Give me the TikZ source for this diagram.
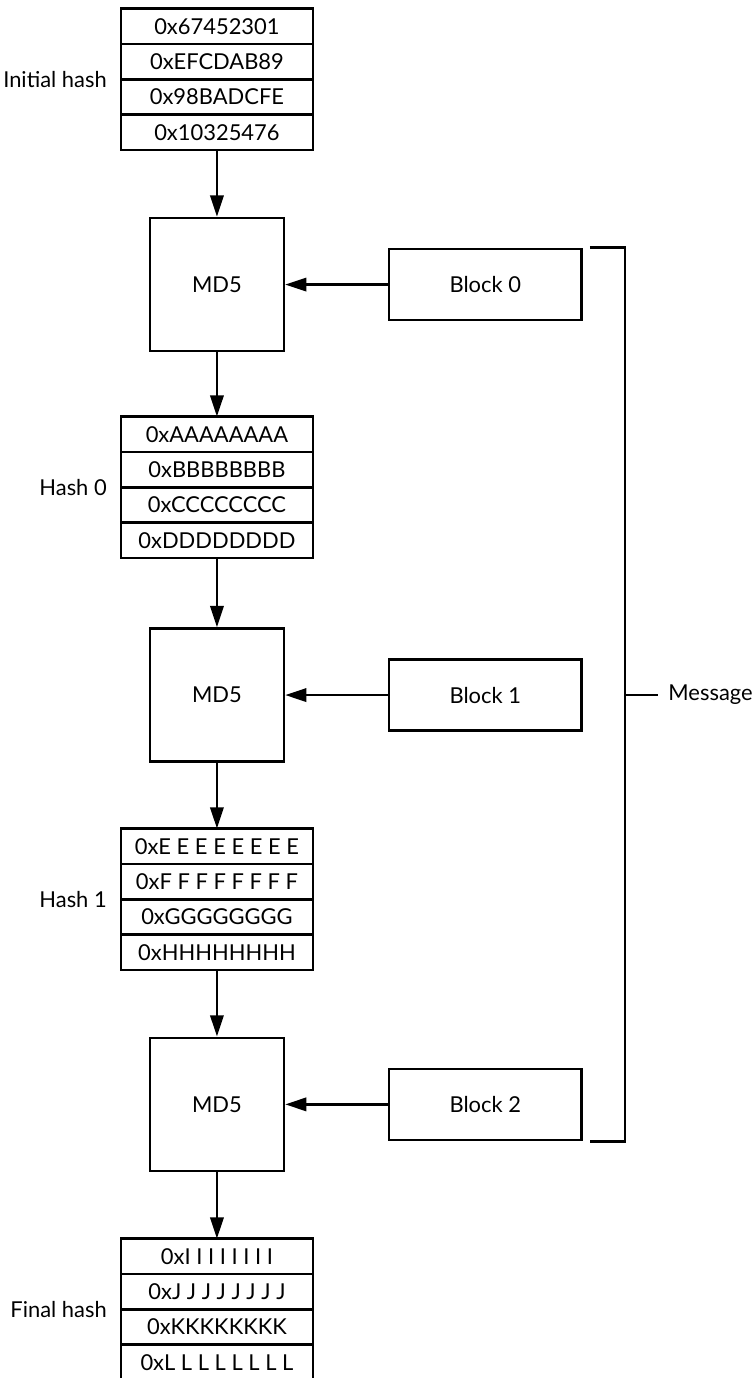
\documentclass[tikz,border=0pt]{standalone}
\usepackage{fontspec}
\setmainfont{Lato}
\usetikzlibrary{arrows.meta,positioning,calc}

\begin{document}
\begin{tikzpicture}[>={Triangle[length=16pt,width=10pt]}, line width=2pt,
    every node/.style={font=\fontsize{16.5}{19}\selectfont},
    row/.style={draw, minimum width=5.08cm, minimum height=0.935cm, inner sep=0pt, outer sep=0pt},
    md/.style={draw, minimum width=3.54cm, minimum height=3.52cm, inner sep=0pt},
    blk/.style={draw, minimum width=5.1cm, minimum height=1.88cm, inner sep=0pt},
    lbl/.style={inner sep=0pt}]
  \useasboundingbox (0,0) rectangle (19.97,-36.46);
  % initial hash
  \node[row] (ia) at (5.74,-0.70) {0x67452301};
  \node[row, below=0pt of ia] (ib) {0xEFCDAB89};
  \node[row, below=0pt of ib] (ic) {0x98BADCFE};
  \node[row, below=0pt of ic] (id) {0x10325476};
  \node[lbl, left=0.34cm of ib.south west] (li) {Initial hash};
  % compression
  \node[md] (md0) at (5.74,-7.53) {MD5};
  \node[blk] (b0) at (12.84,-7.53) {Block 0};
  % hash 0
  \node[row] (ha) at (5.74,-11.49) {0xAAAAAAAA};
  \node[row, below=0pt of ha] (hb) {0xBBBBBBBB};
  \node[row, below=0pt of hb] (hc) {0xCCCCCCCC};
  \node[row, below=0pt of hc] (hd) {0xDDDDDDDD};
  \node[lbl, left=0.34cm of hb.south west] (lh0) {Hash 0};
  \node[md] (md1) at (5.74,-18.39) {MD5};
  \node[blk] (b1) at (12.84,-18.39) {Block 1};
  % hash 1
  \node[row] (he) at (5.74,-22.39) {0xE E E E E E E E};
  \node[row, below=0pt of he] (hf) {0xF F F F F F F F};
  \node[row, below=0pt of hf] (hg) {0xGGGGGGGG};
  \node[row, below=0pt of hg] (hh) {0xHHHHHHHH};
  \node[lbl, left=0.34cm of hf.south west] (lh1) {Hash 1};
  \node[md] (md2) at (5.74,-29.22) {MD5};
  \node[blk] (b2) at (12.84,-29.22) {Block 2};
  % final hash
  \node[row] (fi) at (5.74,-33.24) {0xI I I I I I I I};
  \node[row, below=0pt of fi] (fj) {0xJ J J J J J J J};
  \node[row, below=0pt of fj] (fk) {0xKKKKKKKK};
  \node[row, below=0pt of fk] (fl) {0xL L L L L L L L};
  \node[lbl, left=0.34cm of fj.south west] (lf) {Final hash};
  % arrows
  \draw[->] (id) -- (md0);
  \draw[->] (md0) -- (ha);
  \draw[->] (hd) -- (md1);
  \draw[->] (md1) -- (he);
  \draw[->] (hh) -- (md2);
  \draw[->] (md2) -- (fi);
  \draw[->] (b0) -- (md0);
  \draw[->] (b1) -- (md1);
  \draw[->] (b2) -- (md2);
  % message bracket
  \draw ([xshift=0.18cm]b0.north east) -- ++(0.93,0) coordinate (btop)
    -- (btop |- b2.south) -- ([xshift=0.18cm]b2.south east);
  \coordinate (mmid) at (btop |- b1);
  \node[anchor=west, inner xsep=7pt] (msg) at ([xshift=0.87cm]mmid) {Message};
  \draw (mmid) -- (msg.west);
\end{tikzpicture}
\end{document}
